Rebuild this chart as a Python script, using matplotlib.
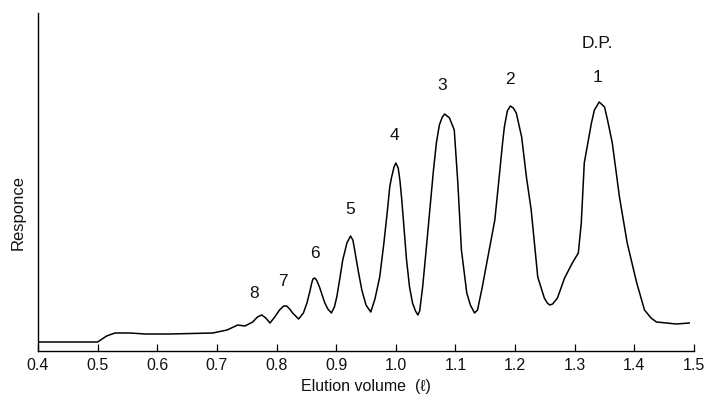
import matplotlib
matplotlib.use("Agg")
import matplotlib.pyplot as plt

plt.rcParams['font.family'] = ['Liberation Sans', 'DejaVu Sans']

# Elution volume (l) and detector response (arbitrary units)
volume = [0.400, 0.500, 0.505, 0.515, 0.529, 0.554, 0.580, 0.621, 0.693, 0.717,
          0.735, 0.747, 0.760, 0.768, 0.775, 0.782, 0.789, 0.797, 0.805, 0.812,
          0.817, 0.822, 0.827, 0.837, 0.845, 0.851, 0.856, 0.859, 0.861, 0.864,
          0.867, 0.872, 0.877, 0.881, 0.886, 0.892, 0.897, 0.901, 0.906, 0.911,
          0.918, 0.924, 0.928, 0.931, 0.937, 0.943, 0.950, 0.958, 0.965, 0.973,
          0.980, 0.986, 0.990, 0.993, 0.997, 1.000, 1.004, 1.007, 1.010, 1.018,
          1.023, 1.028, 1.033, 1.037, 1.040, 1.045, 1.051, 1.057, 1.063, 1.068,
          1.073, 1.078, 1.082, 1.090, 1.098, 1.104, 1.110, 1.119, 1.125, 1.132,
          1.137, 1.145, 1.155, 1.166, 1.173, 1.179, 1.182, 1.187, 1.192, 1.197,
          1.202, 1.211, 1.219, 1.227, 1.238, 1.249, 1.254, 1.258, 1.263, 1.271,
          1.283, 1.296, 1.306, 1.311, 1.316, 1.322, 1.328, 1.333, 1.341, 1.350,
          1.355, 1.363, 1.375, 1.388, 1.404, 1.417, 1.428, 1.437, 1.454, 1.470,
          1.492]
response = [9, 9, 11, 15, 18, 18, 17, 17, 18, 21,
            26, 25, 29, 34, 36, 33, 28, 34, 41, 45,
            45, 42, 38, 32, 38, 48, 60, 68, 72, 73,
            71, 64, 55, 48, 42, 38, 44, 54, 72, 91,
            108, 115, 111, 101, 80, 61, 46, 39, 52, 74,
            108, 141, 165, 174, 184, 188, 183, 170, 151, 91,
            64, 48, 40, 36, 40, 64, 102, 141, 180, 208,
            226, 234, 237, 233, 221, 168, 101, 58, 46, 38,
            41, 64, 96, 131, 172, 208, 224, 240, 245, 243,
            238, 214, 174, 141, 74, 53, 48, 46, 47, 53,
            73, 88, 98, 128, 188, 208, 228, 241, 249, 244,
            231, 208, 154, 108, 68, 41, 33, 29, 28, 27,
            28]

# Degree-of-polymerisation peak labels
peak_labels = ["8", "7", "6", "5", "4", "3", "2", "1"]
label_vol = [0.763, 0.810, 0.864, 0.924, 0.998, 1.078, 1.191, 1.338]
label_resp = [58, 69, 98, 141, 216, 265, 271, 274]

x_ticks = [0.4, 0.5, 0.6, 0.7, 0.8, 0.9, 1.0, 1.1, 1.2, 1.3, 1.4, 1.5]
x_ticklabels = ["0.4", "0.5", "0.6", "0.7", "0.8", "0.9", "1.0", "1.1", "1.2", "1.3", "1.4", "1.5"]

fig = plt.figure(figsize=(7.10, 4.01), dpi=100)
ax = fig.add_axes([38/710, 50/401, 656/710, 338/401])

ax.plot(volume, response, color='black', lw=1.1, solid_joinstyle='round')

for lab, xv, yv in zip(peak_labels, label_vol, label_resp):
    ax.text(xv, yv, lab, ha='center', va='center', fontsize=12.5, color='#111111')
ax.text(1.338, 308, "D.P.", ha='center', va='center', fontsize=12.5, color='#111111')

ax.set_xlim(0.4, 1.5)
ax.set_ylim(0, 338)
ax.spines['top'].set_visible(False)
ax.spines['right'].set_visible(False)
ax.spines['left'].set_linewidth(1.0)
ax.spines['bottom'].set_linewidth(1.0)
ax.set_yticks([])
ax.set_xticks(x_ticks)
ax.set_xticklabels(x_ticklabels, fontsize=11.5, color='#111111')
ax.tick_params(axis='x', direction='in', length=5, width=0.9, pad=5)

ax.set_xlabel("Elution volume  (ℓ)", fontsize=11.5, color='#111111', labelpad=4)
fig.text(18/710, 1 - 213/401, "Responce", rotation=90, ha='center', va='center',
         fontsize=12, color='#111111')

fig.savefig("out.png", dpi=100)
